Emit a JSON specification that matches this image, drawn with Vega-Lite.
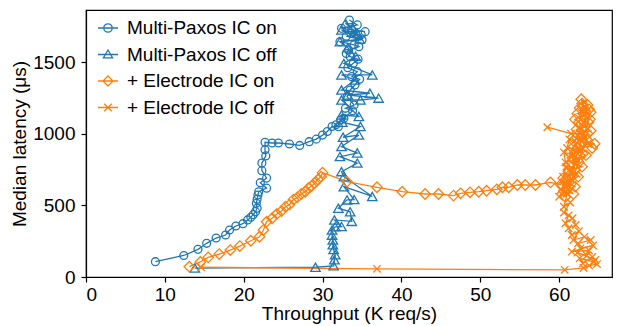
{
  "$schema": "https://vega.github.io/schema/vega-lite/v6.json",
  "width": 526,
  "height": 267,
  "autosize": {"type": "none"},
  "padding": {"left": 86, "top": 10, "right": 6, "bottom": 49},
  "background": "white",
  "config": {
    "font": "Liberation Sans",
    "view": {"stroke": "black", "strokeWidth": 1.2},
    "axis": {
      "grid": false, "domainColor": "black", "tickColor": "black", "labelColor": "black", "titleColor": "black",
      "labelFontSize": 19, "titleFontSize": 19, "titleFontWeight": "normal", "tickSize": 5,
      "domainWidth": 1.2, "tickWidth": 1.2, "labelFont": "Liberation Sans", "titleFont": "Liberation Sans"
    }
  },
  "datasets": {
    "pts": [
      {"s":"Multi-Paxos IC on","i":1,"x":8.8,"y":107},{"s":"Multi-Paxos IC on","i":2,"x":12.4,"y":150},{"s":"Multi-Paxos IC on","i":3,"x":14.2,"y":193},{"s":"Multi-Paxos IC on","i":4,"x":15.3,"y":235},{"s":"Multi-Paxos IC on","i":5,"x":16.5,"y":272},{"s":"Multi-Paxos IC on","i":6,"x":17.7,"y":293},{"s":"Multi-Paxos IC on","i":7,"x":18.2,"y":328},{"s":"Multi-Paxos IC on","i":8,"x":19.0,"y":356},{"s":"Multi-Paxos IC on","i":9,"x":19.9,"y":372},{"s":"Multi-Paxos IC on","i":10,"x":20.5,"y":398},{"s":"Multi-Paxos IC on","i":11,"x":20.9,"y":417},{"s":"Multi-Paxos IC on","i":12,"x":21.2,"y":435},{"s":"Multi-Paxos IC on","i":13,"x":21.5,"y":456},{"s":"Multi-Paxos IC on","i":14,"x":21.7,"y":480},{"s":"Multi-Paxos IC on","i":15,"x":21.6,"y":514},{"s":"Multi-Paxos IC on","i":16,"x":21.7,"y":542},{"s":"Multi-Paxos IC on","i":17,"x":21.8,"y":572},{"s":"Multi-Paxos IC on","i":18,"x":21.9,"y":595},{"s":"Multi-Paxos IC on","i":19,"x":22.9,"y":620},{"s":"Multi-Paxos IC on","i":20,"x":22.1,"y":658},{"s":"Multi-Paxos IC on","i":21,"x":22.9,"y":690},{"s":"Multi-Paxos IC on","i":22,"x":22.3,"y":742},{"s":"Multi-Paxos IC on","i":23,"x":22.3,"y":795},{"s":"Multi-Paxos IC on","i":24,"x":22.8,"y":845},{"s":"Multi-Paxos IC on","i":25,"x":22.7,"y":888},{"s":"Multi-Paxos IC on","i":26,"x":22.7,"y":940},{"s":"Multi-Paxos IC on","i":27,"x":23.6,"y":935},{"s":"Multi-Paxos IC on","i":28,"x":24.4,"y":935},{"s":"Multi-Paxos IC on","i":29,"x":25.8,"y":928},{"s":"Multi-Paxos IC on","i":30,"x":27.1,"y":918},{"s":"Multi-Paxos IC on","i":31,"x":28.3,"y":944},{"s":"Multi-Paxos IC on","i":32,"x":29.2,"y":962},{"s":"Multi-Paxos IC on","i":33,"x":30.0,"y":990},{"s":"Multi-Paxos IC on","i":34,"x":30.6,"y":1015},{"s":"Multi-Paxos IC on","i":35,"x":31.2,"y":1050},{"s":"Multi-Paxos IC on","i":36,"x":32.0,"y":1049},{"s":"Multi-Paxos IC on","i":37,"x":31.7,"y":1062},{"s":"Multi-Paxos IC on","i":38,"x":32.3,"y":1095},{"s":"Multi-Paxos IC on","i":39,"x":32.7,"y":1107},{"s":"Multi-Paxos IC on","i":39.5,"x":33.8,"y":1160},{"s":"Multi-Paxos IC on","i":40,"x":32.9,"y":1177},{"s":"Multi-Paxos IC on","i":40.5,"x":34.0,"y":1200},{"s":"Multi-Paxos IC on","i":41,"x":33.1,"y":1258},{"s":"Multi-Paxos IC on","i":42,"x":33.5,"y":1305},{"s":"Multi-Paxos IC on","i":43,"x":34.1,"y":1340},{"s":"Multi-Paxos IC on","i":43.5,"x":34.7,"y":1380},{"s":"Multi-Paxos IC on","i":44,"x":33.7,"y":1398},{"s":"Multi-Paxos IC on","i":45,"x":34.4,"y":1433},{"s":"Multi-Paxos IC on","i":45.5,"x":33.2,"y":1460},{"s":"Multi-Paxos IC on","i":46,"x":33.9,"y":1491},{"s":"Multi-Paxos IC on","i":46.5,"x":34.5,"y":1520},{"s":"Multi-Paxos IC on","i":47,"x":33.5,"y":1537},{"s":"Multi-Paxos IC on","i":47.5,"x":33.0,"y":1560},{"s":"Multi-Paxos IC on","i":48,"x":33.3,"y":1584},{"s":"Multi-Paxos IC on","i":49,"x":34.6,"y":1607},{"s":"Multi-Paxos IC on","i":49.5,"x":34.0,"y":1620},{"s":"Multi-Paxos IC on","i":50,"x":32.2,"y":1642},{"s":"Multi-Paxos IC on","i":51,"x":35.0,"y":1654},{"s":"Multi-Paxos IC on","i":51.3,"x":33.0,"y":1680},{"s":"Multi-Paxos IC on","i":51.6,"x":34.9,"y":1690},{"s":"Multi-Paxos IC on","i":51.8,"x":33.6,"y":1700},{"s":"Multi-Paxos IC on","i":52,"x":33.7,"y":1724},{"s":"Multi-Paxos IC on","i":53,"x":35.4,"y":1712},{"s":"Multi-Paxos IC on","i":54,"x":32.4,"y":1735},{"s":"Multi-Paxos IC on","i":55,"x":34.4,"y":1759},{"s":"Multi-Paxos IC on","i":56,"x":33.4,"y":1793},

      {"s":"Multi-Paxos IC off","i":1,"x":13.8,"y":62},{"s":"Multi-Paxos IC off","i":2,"x":29.1,"y":68},{"s":"Multi-Paxos IC off","i":3,"x":31.4,"y":78},{"s":"Multi-Paxos IC off","i":4,"x":31.5,"y":120},{"s":"Multi-Paxos IC off","i":5,"x":31.6,"y":155},{"s":"Multi-Paxos IC off","i":6,"x":31.4,"y":192},{"s":"Multi-Paxos IC off","i":7,"x":31.3,"y":225},{"s":"Multi-Paxos IC off","i":8,"x":31.3,"y":258},{"s":"Multi-Paxos IC off","i":9,"x":31.2,"y":292},{"s":"Multi-Paxos IC off","i":10,"x":31.2,"y":328},{"s":"Multi-Paxos IC off","i":11,"x":31.6,"y":350},{"s":"Multi-Paxos IC off","i":12,"x":32.4,"y":352},{"s":"Multi-Paxos IC off","i":13,"x":31.5,"y":398},{"s":"Multi-Paxos IC off","i":14,"x":33.7,"y":388},{"s":"Multi-Paxos IC off","i":15,"x":33.5,"y":455},{"s":"Multi-Paxos IC off","i":16,"x":32.0,"y":480},{"s":"Multi-Paxos IC off","i":17,"x":33.1,"y":538},{"s":"Multi-Paxos IC off","i":18,"x":34.0,"y":540},{"s":"Multi-Paxos IC off","i":19,"x":32.7,"y":630},{"s":"Multi-Paxos IC off","i":20,"x":36.3,"y":562},{"s":"Multi-Paxos IC off","i":21,"x":32.7,"y":700},{"s":"Multi-Paxos IC off","i":22,"x":32.4,"y":735},{"s":"Multi-Paxos IC off","i":23,"x":34.4,"y":795},{"s":"Multi-Paxos IC off","i":24,"x":32.2,"y":840},{"s":"Multi-Paxos IC off","i":25,"x":34.4,"y":865},{"s":"Multi-Paxos IC off","i":26,"x":32.4,"y":910},{"s":"Multi-Paxos IC off","i":27,"x":34.6,"y":990},{"s":"Multi-Paxos IC off","i":28,"x":32.6,"y":975},{"s":"Multi-Paxos IC off","i":29,"x":34.8,"y":1050},{"s":"Multi-Paxos IC off","i":30,"x":32.5,"y":1080},{"s":"Multi-Paxos IC off","i":31,"x":32.4,"y":1130},{"s":"Multi-Paxos IC off","i":32,"x":34.6,"y":1120},{"s":"Multi-Paxos IC off","i":33,"x":32.4,"y":1235},{"s":"Multi-Paxos IC off","i":34,"x":34.8,"y":1235},{"s":"Multi-Paxos IC off","i":35,"x":37.1,"y":1248},{"s":"Multi-Paxos IC off","i":36,"x":33.2,"y":1270},{"s":"Multi-Paxos IC off","i":37,"x":36.0,"y":1282},{"s":"Multi-Paxos IC off","i":38,"x":32.4,"y":1305},{"s":"Multi-Paxos IC off","i":39,"x":34.1,"y":1375},{"s":"Multi-Paxos IC off","i":40,"x":32.4,"y":1410},{"s":"Multi-Paxos IC off","i":41,"x":36.3,"y":1410},{"s":"Multi-Paxos IC off","i":42,"x":32.7,"y":1490},{"s":"Multi-Paxos IC off","i":43,"x":34.2,"y":1540},{"s":"Multi-Paxos IC off","i":44,"x":33.2,"y":1600},{"s":"Multi-Paxos IC off","i":45,"x":32.2,"y":1642},{"s":"Multi-Paxos IC off","i":46,"x":34.7,"y":1660},{"s":"Multi-Paxos IC off","i":47,"x":32.4,"y":1724},{"s":"Multi-Paxos IC off","i":48,"x":34.4,"y":1700},{"s":"Multi-Paxos IC off","i":49,"x":32.9,"y":1770},{"s":"Multi-Paxos IC off","i":50,"x":33.8,"y":1740},

      {"s":"+ Electrode IC on","i":1,"x":13.1,"y":72},{"s":"+ Electrode IC on","i":2,"x":14.5,"y":105},{"s":"+ Electrode IC on","i":3,"x":15.5,"y":137},{"s":"+ Electrode IC on","i":4,"x":16.9,"y":160},{"s":"+ Electrode IC on","i":5,"x":18.3,"y":188},{"s":"+ Electrode IC on","i":6,"x":19.5,"y":216},{"s":"+ Electrode IC on","i":7,"x":20.9,"y":253},{"s":"+ Electrode IC on","i":8,"x":22.0,"y":281},{"s":"+ Electrode IC on","i":9,"x":22.5,"y":328},{"s":"+ Electrode IC on","i":10,"x":22.9,"y":386},{"s":"+ Electrode IC on","i":11,"x":23.6,"y":410},{"s":"+ Electrode IC on","i":12,"x":24.2,"y":440},{"s":"+ Electrode IC on","i":13,"x":24.8,"y":460},{"s":"+ Electrode IC on","i":14,"x":25.3,"y":490},{"s":"+ Electrode IC on","i":15,"x":25.8,"y":505},{"s":"+ Electrode IC on","i":16,"x":26.3,"y":540},{"s":"+ Electrode IC on","i":17,"x":26.8,"y":555},{"s":"+ Electrode IC on","i":18,"x":27.3,"y":580},{"s":"+ Electrode IC on","i":19,"x":27.8,"y":595},{"s":"+ Electrode IC on","i":20,"x":28.2,"y":620},{"s":"+ Electrode IC on","i":21,"x":28.6,"y":635},{"s":"+ Electrode IC on","i":22,"x":29.0,"y":655},{"s":"+ Electrode IC on","i":23,"x":29.4,"y":680},{"s":"+ Electrode IC on","i":24,"x":29.8,"y":700},{"s":"+ Electrode IC on","i":25,"x":30.0,"y":728},{"s":"+ Electrode IC on","i":26,"x":33.1,"y":665},{"s":"+ Electrode IC on","i":27,"x":36.9,"y":626},{"s":"+ Electrode IC on","i":28,"x":40.1,"y":595},{"s":"+ Electrode IC on","i":29,"x":43.0,"y":579},{"s":"+ Electrode IC on","i":30,"x":44.7,"y":579},{"s":"+ Electrode IC on","i":31,"x":46.6,"y":568},{"s":"+ Electrode IC on","i":32,"x":47.5,"y":584},{"s":"+ Electrode IC on","i":33,"x":48.7,"y":591},{"s":"+ Electrode IC on","i":34,"x":49.8,"y":595},{"s":"+ Electrode IC on","i":35,"x":50.8,"y":602},{"s":"+ Electrode IC on","i":36,"x":52.1,"y":612},{"s":"+ Electrode IC on","i":37,"x":52.8,"y":626},{"s":"+ Electrode IC on","i":38,"x":53.6,"y":626},{"s":"+ Electrode IC on","i":39,"x":54.7,"y":642},{"s":"+ Electrode IC on","i":40,"x":55.7,"y":642},{"s":"+ Electrode IC on","i":41,"x":57.0,"y":642},{"s":"+ Electrode IC on","i":42,"x":58.9,"y":660},{"s":"+ Electrode IC on","i":43,"x":60.2,"y":645},{"s":"+ Electrode IC on","i":44,"x":60.5,"y":690},{"s":"+ Electrode IC on","i":45,"x":61.0,"y":610},{"s":"+ Electrode IC on","i":46,"x":60.8,"y":560},{"s":"+ Electrode IC on","i":47,"x":61.5,"y":720},{"s":"+ Electrode IC on","i":48,"x":61.2,"y":780},{"s":"+ Electrode IC on","i":49,"x":62.0,"y":750},{"s":"+ Electrode IC on","i":50,"x":61.7,"y":830},{"s":"+ Electrode IC on","i":51,"x":62.5,"y":800},{"s":"+ Electrode IC on","i":52,"x":61.3,"y":870},{"s":"+ Electrode IC on","i":53,"x":62.3,"y":900},{"s":"+ Electrode IC on","i":54,"x":63.0,"y":860},{"s":"+ Electrode IC on","i":55,"x":61.8,"y":950},{"s":"+ Electrode IC on","i":56,"x":62.8,"y":980},{"s":"+ Electrode IC on","i":57,"x":64.2,"y":900},{"s":"+ Electrode IC on","i":58,"x":62.2,"y":1030},{"s":"+ Electrode IC on","i":59,"x":63.3,"y":1050},{"s":"+ Electrode IC on","i":60,"x":62.0,"y":1100},{"s":"+ Electrode IC on","i":61,"x":63.2,"y":1130},{"s":"+ Electrode IC on","i":62,"x":62.6,"y":1180},{"s":"+ Electrode IC on","i":63,"x":63.6,"y":1200},{"s":"+ Electrode IC on","i":64,"x":62.8,"y":1240},{"s":"+ Electrode IC on","i":65,"x":63.3,"y":1160},{"s":"+ Electrode IC on","i":66,"x":62.5,"y":1080},{"s":"+ Electrode IC on","i":67,"x":63.5,"y":960},{"s":"+ Electrode IC on","i":68,"x":61.5,"y":650},{"s":"+ Electrode IC on","i":69,"x":63.6,"y":1000},{"s":"+ Electrode IC on","i":70,"x":62.9,"y":1210},{"s":"+ Electrode IC on","i":71,"x":63.8,"y":1170},{"s":"+ Electrode IC on","i":72,"x":62.3,"y":1140},{"s":"+ Electrode IC on","i":73,"x":63.9,"y":1100},{"s":"+ Electrode IC on","i":74,"x":62.7,"y":1060},{"s":"+ Electrode IC on","i":75,"x":64.0,"y":1020},{"s":"+ Electrode IC on","i":76,"x":62.4,"y":990},{"s":"+ Electrode IC on","i":77,"x":63.1,"y":940},{"s":"+ Electrode IC on","i":78,"x":64.5,"y":930},{"s":"+ Electrode IC on","i":79,"x":62.1,"y":880},{"s":"+ Electrode IC on","i":80,"x":63.4,"y":850},{"s":"+ Electrode IC on","i":81,"x":61.6,"y":800},{"s":"+ Electrode IC on","i":82,"x":62.9,"y":770},{"s":"+ Electrode IC on","i":83,"x":61.2,"y":740},{"s":"+ Electrode IC on","i":84,"x":62.4,"y":700},{"s":"+ Electrode IC on","i":85,"x":60.9,"y":660},{"s":"+ Electrode IC on","i":86,"x":62.0,"y":630},{"s":"+ Electrode IC on","i":87,"x":60.6,"y":600},{"s":"+ Electrode IC on","i":88,"x":61.8,"y":580},{"s":"+ Electrode IC on","i":89,"x":60.4,"y":640},{"s":"+ Electrode IC on","i":90,"x":61.4,"y":690},{"s":"+ Electrode IC on","i":91,"x":62.6,"y":920},{"s":"+ Electrode IC on","i":92,"x":63.7,"y":1080},{"s":"+ Electrode IC on","i":93,"x":63.0,"y":1190},{"s":"+ Electrode IC on","i":94,"x":64.0,"y":1150},

      {"s":"+ Electrode IC off","i":1,"x":14.6,"y":68},{"s":"+ Electrode IC off","i":2,"x":36.9,"y":57},{"s":"+ Electrode IC off","i":3,"x":60.7,"y":50},{"s":"+ Electrode IC off","i":4,"x":63.1,"y":63},{"s":"+ Electrode IC off","i":4.2,"x":63.8,"y":80},{"s":"+ Electrode IC off","i":4.5,"x":64.8,"y":90},{"s":"+ Electrode IC off","i":5,"x":64.4,"y":105},{"s":"+ Electrode IC off","i":5.5,"x":62.6,"y":130},{"s":"+ Electrode IC off","i":6,"x":63.0,"y":95},{"s":"+ Electrode IC off","i":6.5,"x":64.2,"y":140},{"s":"+ Electrode IC off","i":7,"x":64.6,"y":120},{"s":"+ Electrode IC off","i":7.5,"x":62.3,"y":170},{"s":"+ Electrode IC off","i":8,"x":63.5,"y":150},{"s":"+ Electrode IC off","i":8.5,"x":63.8,"y":185},{"s":"+ Electrode IC off","i":9,"x":61.6,"y":177},{"s":"+ Electrode IC off","i":9.5,"x":64.3,"y":220},{"s":"+ Electrode IC off","i":10,"x":62.7,"y":200},{"s":"+ Electrode IC off","i":10.5,"x":62.4,"y":235},{"s":"+ Electrode IC off","i":11,"x":64.0,"y":258},{"s":"+ Electrode IC off","i":11.5,"x":63.2,"y":280},{"s":"+ Electrode IC off","i":12,"x":61.8,"y":258},{"s":"+ Electrode IC off","i":12.5,"x":62.5,"y":320},{"s":"+ Electrode IC off","i":13,"x":61.6,"y":293},{"s":"+ Electrode IC off","i":13.5,"x":61.2,"y":340},{"s":"+ Electrode IC off","i":14,"x":62.1,"y":363},{"s":"+ Electrode IC off","i":14.5,"x":61.7,"y":410},{"s":"+ Electrode IC off","i":15,"x":60.8,"y":375},{"s":"+ Electrode IC off","i":15.5,"x":61.2,"y":430},{"s":"+ Electrode IC off","i":16,"x":60.6,"y":450},{"s":"+ Electrode IC off","i":16.5,"x":61.4,"y":520},{"s":"+ Electrode IC off","i":17,"x":60.6,"y":490},{"s":"+ Electrode IC off","i":17.5,"x":61.0,"y":580},{"s":"+ Electrode IC off","i":18,"x":60.0,"y":560},{"s":"+ Electrode IC off","i":18.5,"x":60.9,"y":630},{"s":"+ Electrode IC off","i":19,"x":60.2,"y":607},{"s":"+ Electrode IC off","i":19.5,"x":61.6,"y":680},{"s":"+ Electrode IC off","i":20,"x":61.0,"y":650},{"s":"+ Electrode IC off","i":20.5,"x":62.2,"y":720},{"s":"+ Electrode IC off","i":21,"x":60.5,"y":700},{"s":"+ Electrode IC off","i":21.5,"x":60.9,"y":770},{"s":"+ Electrode IC off","i":22,"x":61.5,"y":740},{"s":"+ Electrode IC off","i":22.5,"x":62.3,"y":820},{"s":"+ Electrode IC off","i":23,"x":60.8,"y":800},{"s":"+ Electrode IC off","i":23.5,"x":60.6,"y":870},{"s":"+ Electrode IC off","i":24,"x":61.8,"y":850},{"s":"+ Electrode IC off","i":24.5,"x":62.4,"y":890},{"s":"+ Electrode IC off","i":25,"x":61.0,"y":900},{"s":"+ Electrode IC off","i":25.5,"x":61.3,"y":960},{"s":"+ Electrode IC off","i":26,"x":62.0,"y":950},{"s":"+ Electrode IC off","i":26.5,"x":62.6,"y":1000},{"s":"+ Electrode IC off","i":27,"x":61.5,"y":1000},{"s":"+ Electrode IC off","i":28,"x":58.5,"y":1045}
    ]
  },
  "data": {"name": "pts"},
  "encoding": {
    "x": {"field": "x", "type": "quantitative", "scale": {"domain": [0, 66.7], "nice": false, "zero": false},
          "axis": {"values": [0, 10, 20, 30, 40, 50, 60], "title": "Throughput (K req/s)", "labelPadding": 3, "titlePadding": 0}},
    "y": {"field": "y", "type": "quantitative", "scale": {"domain": [0, 1863], "nice": false},
          "axis": {"values": [0, 500, 1000, 1500], "format": "d", "title": "Median latency (μs)", "labelPadding": 6, "titlePadding": 3}},
    "color": {"field": "s", "type": "nominal",
      "scale": {"domain": ["Multi-Paxos IC on", "Multi-Paxos IC off", "+ Electrode IC on", "+ Electrode IC off"], "range": ["#1f77b4", "#1f77b4", "#ff7f0e", "#ff7f0e"]},
      "legend": {
        "title": null, "orient": "none", "legendX": 11, "legendY": 7, "padding": 0,
        "labelFontSize": 19, "labelFont": "Liberation Sans", "labelColor": "black", "labelLimit": 400,
        "symbolSize": 400, "rowPadding": 5.5, "labelOffset": 8, "symbolStrokeWidth": 1.3,
        "encode": {"symbols": {"update": {
          "shape": {"signal": "datum.value === 'Multi-Paxos IC on' ? 'M-1,0L1,0M0.42,0A0.42,0.42,0,1,1,-0.42,0A0.42,0.42,0,1,1,0.42,0Z' : datum.value === 'Multi-Paxos IC off' ? 'M-1,0L1,0M0,-0.45L0.46,0.33L-0.46,0.33Z' : datum.value === '+ Electrode IC on' ? 'M-1,0L1,0M0,-0.5L0.5,0L0,0.5L-0.5,0Z' : 'M-1,0L1,0M-0.38,-0.38L0.38,0.38M-0.38,0.38L0.38,-0.38'"},
          "size": {"value": 400}, "strokeWidth": {"value": 1.3}, "fill": {"value": "transparent"}, "opacity": {"value": 1}
        }}}
      }},
    "order": {"field": "i", "type": "quantitative"}
  },
  "layer": [
    {"mark": {"type": "line", "strokeWidth": 1.3}},
    {"transform": [{"filter": "datum.s === 'Multi-Paxos IC on'"}],
     "mark": {"type": "point", "shape": "circle", "size": 62, "filled": false, "strokeWidth": 1.3, "opacity": 1}},
    {"transform": [{"filter": "datum.s === 'Multi-Paxos IC off'"}],
     "mark": {"type": "point", "shape": "triangle-up", "size": 90, "filled": false, "strokeWidth": 1.3, "opacity": 1}},
    {"transform": [{"filter": "datum.s === '+ Electrode IC on'"}],
     "mark": {"type": "point", "shape": "diamond", "size": 110, "filled": false, "strokeWidth": 1.3, "opacity": 1}},
    {"transform": [{"filter": "datum.s === '+ Electrode IC off'"}],
     "mark": {"type": "point", "shape": "M-1,-1L1,1M-1,1L1,-1", "size": 55, "filled": false, "strokeWidth": 1.3, "opacity": 1}}
  ]
}
